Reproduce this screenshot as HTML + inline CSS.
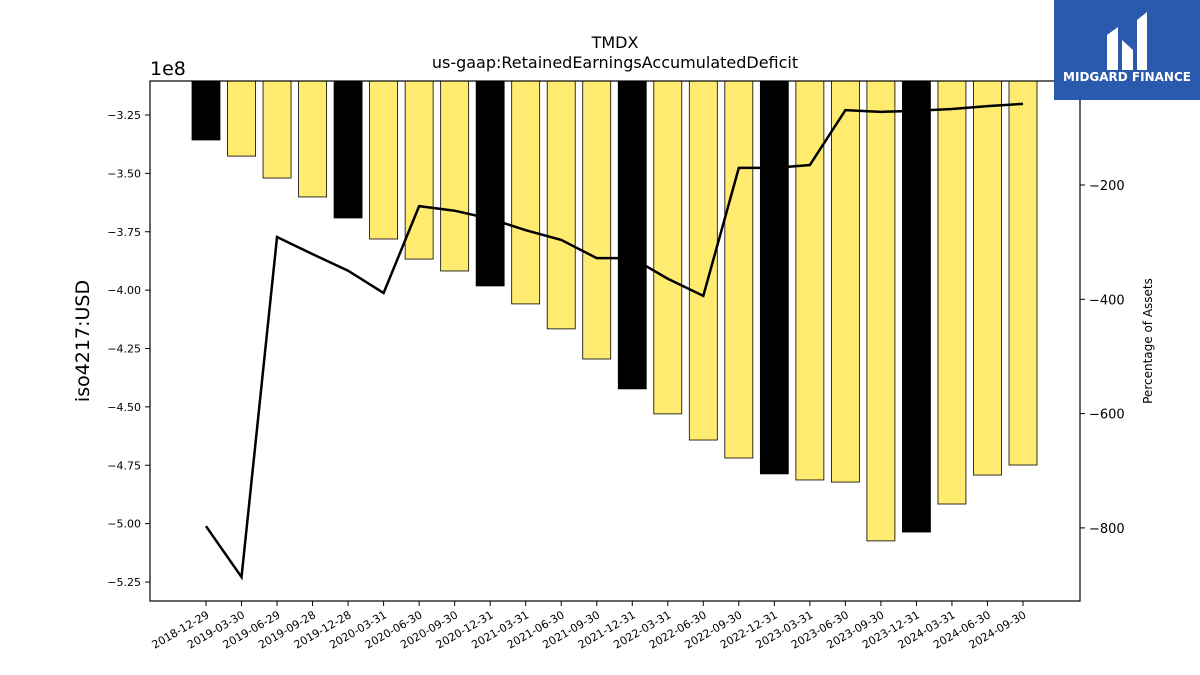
<!DOCTYPE html>
<html><head><meta charset="utf-8"><style>
body{margin:0;background:#fff;font-family:"DejaVu Sans","Liberation Sans",sans-serif;}
svg{display:block}
</style></head><body>
<svg id="chart" width="1200" height="675" xmlns="http://www.w3.org/2000/svg">
<text x="615" y="48" text-anchor="middle" font-size="16">TMDX</text>
<text x="615" y="68" text-anchor="middle" font-size="16">us-gaap:RetainedEarningsAccumulatedDeficit</text>
<text x="150" y="75" font-size="19">1e8</text>
<text transform="translate(89,341) rotate(-90)" text-anchor="middle" font-size="19">iso4217:USD</text>
<text transform="translate(1152,341) rotate(-90)" text-anchor="middle" font-size="12">Percentage of Assets</text>
<g id="bars"></g><g id="axes"></g><g id="line"></g>
<g>
<rect x="1054" y="0" width="146" height="100" fill="#2a5aad"/>
<path d="M1107 70 V35 L1118 27 V70 Z M1122 70 V40 L1133 50 V70 Z M1137 70 V20 L1147 12 V70 Z" fill="#fff"/>
<text x="1127" y="81" text-anchor="middle" font-size="12" font-weight="bold" fill="#fff">MIDGARD FINANCE</text>
</g>
</svg>
<script>
const categories=["2018-12-29","2019-03-30","2019-06-29","2019-09-28","2019-12-28","2020-03-31","2020-06-30","2020-09-30","2020-12-31","2021-03-31","2021-06-30","2021-09-30","2021-12-31","2022-03-31","2022-06-30","2022-09-30","2022-12-31","2023-03-31","2023-06-30","2023-09-30","2023-12-31","2024-03-31","2024-06-30","2024-09-30"];
const deficitValues=[-3.357,-3.426,-3.52,-3.601,-3.691,-3.781,-3.867,-3.918,-3.982,-4.059,-4.166,-4.295,-4.423,-4.530,-4.642,-4.719,-4.787,-4.813,-4.822,-5.074,-5.036,-4.916,-4.792,-4.749];
const pctAssets=[-797,-886,-291,-321,-350,-389,-237,-245,-259,-279,-296,-328,-328,-364,-394,-170,-170,-165,-69,-72,-70,-67,-62,-58];
const leftTicks=[-3.25,-3.5,-3.75,-4.0,-4.25,-4.5,-4.75,-5.0,-5.25];
const rightTicks=[-200,-400,-600,-800];
const NS="http://www.w3.org/2000/svg";
const L=150,R=1080,T=81,B=601;
const yL=v=>115+(-3.25-v)/0.25*58.375;
const yR=v=>185+(-200-v)/200*114.3;
const xC=i=>206+i*(1023-206)/(categories.length-1);
function mk(t,a,p){const e=document.createElementNS(NS,t);for(const k in a)e.setAttribute(k,a[k]);p.appendChild(e);return e;}
const bars=document.getElementById('bars'),axes=document.getElementById('axes'),line=document.getElementById('line');
deficitValues.forEach((v,i)=>{
 const dark=categories[i].slice(5,7)==="12";
 const y=yL(v);
 const r=mk('rect',{x:xC(i)-14,y:T,width:28,height:y-T,fill:dark?'#000':'#ffeb70',stroke:'#000','stroke-width':0.8},bars);
 
 
});
const fr=mk('rect',{x:L,y:T,width:R-L,height:B-T,fill:'none',stroke:'#000','stroke-width':1.2},axes);


leftTicks.forEach(t=>{const y=yL(t);mk('line',{x1:L-5,x2:L,y1:y,y2:y,stroke:'#000'},axes);
 const tx=mk('text',{x:L-9,y:y+4,'text-anchor':'end','font-size':11},axes);tx.textContent=(t<0?'−':'')+Math.abs(t).toFixed(2);
 
 });
rightTicks.forEach(t=>{const y=yR(t);mk('line',{x1:R,x2:R+5,y1:y,y2:y,stroke:'#000'},axes);
 const tx=mk('text',{x:R+9,y:y+5,'font-size':13},axes);tx.textContent='−'+Math.abs(t);
 
 });
categories.forEach((c,i)=>{const x=xC(i);mk('line',{x1:x,x2:x,y1:B,y2:B+5,stroke:'#000'},axes);
 const tx=mk('text',{transform:`translate(${x+4},${B+16}) rotate(-30)`,'text-anchor':'end','font-size':11},axes);tx.textContent=c;
 
 });
const pl=mk('polyline',{points:pctAssets.map((v,i)=>xC(i)+','+yR(v)).join(' '),fill:'none',stroke:'#000','stroke-width':2.5},line);


</script>
</body></html>
